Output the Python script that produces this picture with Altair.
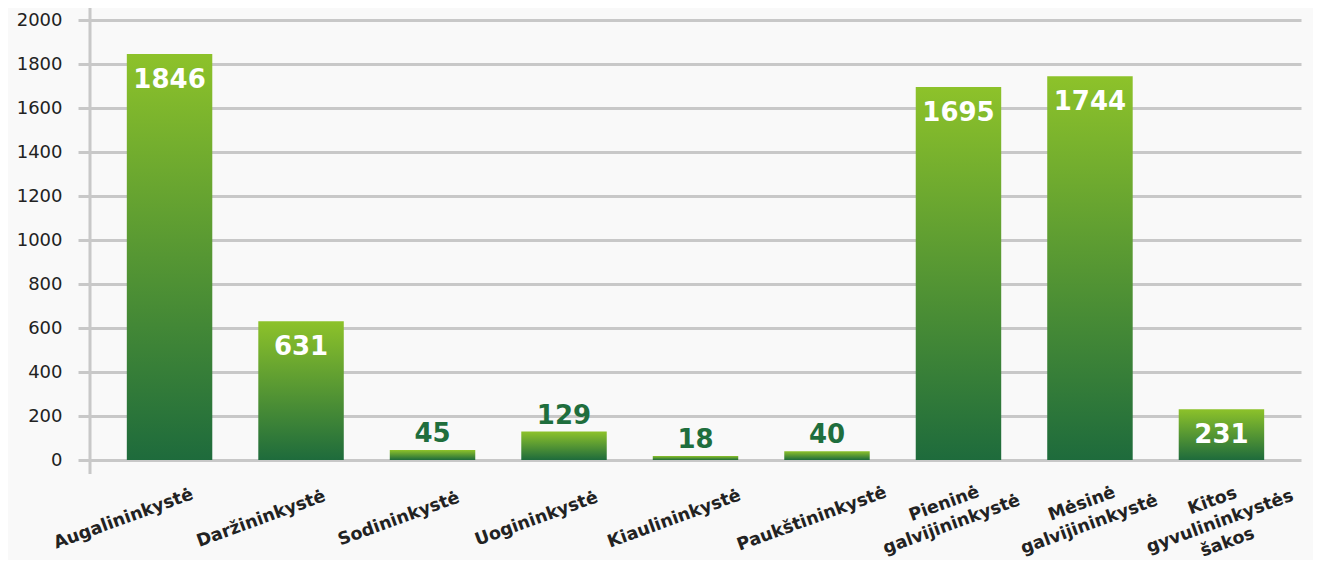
import altair as alt
import pandas as pd

categories = ["Augalininkystė", "Daržininkystė", "Sodininkystė", "Uogininkystė",
              "Kiaulininkystė", "Paukštininkystė", "Pieninė galvijininkystė",
              "Mėsinė galvijininkystė", "Kitos gyvulininkystės šakos"]
label_lines = ["Augalininkystė", "Daržininkystė", "Sodininkystė", "Uogininkystė",
               "Kiaulininkystė", "Paukštininkystė", "Pieninė\ngalvijininkystė",
               "Mėsinė\ngalvijininkystė", "Kitos\ngyvulininkystės\nšakos"]
values = [1846, 631, 45, 129, 18, 40, 1695, 1744, 231]
y_ticks = [0, 200, 400, 600, 800, 1000, 1200, 1400, 1600, 1800, 2000]

df = pd.DataFrame({"cat": categories, "label": label_lines, "value": values,
                   "idx": list(range(len(categories)))})

GRID = "#c8c8c8"
FONT = "DejaVu Sans"

x_enc = alt.X("cat:N", sort=categories,
              scale=alt.Scale(paddingInner=0.35, paddingOuter=0.28), axis=None)
y_enc = alt.Y("value:Q", scale=alt.Scale(domain=[0, 2000], nice=False),
              axis=alt.Axis(values=y_ticks, format="d", grid=True, gridColor=GRID, gridWidth=3,
                            tickColor=GRID, tickWidth=3, tickSize=12, domain=False,
                            labelFont=FONT, labelFontSize=18, labelColor="#222222",
                            labelPadding=16, title=None))

base = alt.Chart(df)

bars = base.mark_bar(
    color=alt.Gradient(gradient="linear",
                       stops=[alt.GradientStop(color="#8dc22a", offset=0),
                              alt.GradientStop(color="#1e6b3c", offset=1)],
                       x1=0, x2=0, y1=0, y2=1)
).encode(x=x_enc, y=y_enc)

inside = base.transform_filter("datum.value >= 200").mark_text(
    color="white", font=FONT, fontWeight="bold", fontSize=26, baseline="top", dy=13
).encode(x=x_enc, y=y_enc, text="value:Q")

above = base.transform_filter("datum.value < 200").mark_text(
    color="#1f6e3d", font=FONT, fontWeight="bold", fontSize=26, baseline="bottom", dy=-3
).encode(x=x_enc, y=y_enc, text="value:Q")

xlabels = base.transform_calculate(
    nl="length(split(datum.label, '\\n'))"
).transform_calculate(
    h="-46 + 6.2*datum.idx + (datum.nl == 3 ? -6 : 0)",
    v="datum.nl == 2 ? -16 : (datum.nl == 3 ? -19 : 0)"
).mark_text(
    angle=340, align="center", baseline="middle", lineBreak="\n", lineHeight=22,
    font=FONT, fontWeight="bold", fontSize=17.5, color="#222222",
    dx=alt.ExprRef("0.94*datum.h"),
    dy=alt.ExprRef("0.342*datum.h + datum.v")
).encode(x=x_enc, y=alt.value(499), text="label:N")

yline = alt.Chart(pd.DataFrame({"a": [0]})).mark_rule(color=GRID, strokeWidth=3).encode(
    x=alt.value(0), y=alt.value(-15), y2=alt.value(454))

chart = alt.layer(bars, yline, inside, above, xlabels).properties(
    width=1211, height=440,
    autosize=alt.AutoSizeParams(type="none"),
    padding={"left": 82, "top": 12, "right": 12, "bottom": 100},
    background="#f9f9f9",
).configure_view(strokeWidth=0)

chart.save("out.html", embed_options={"renderer": "svg", "actions": False})
